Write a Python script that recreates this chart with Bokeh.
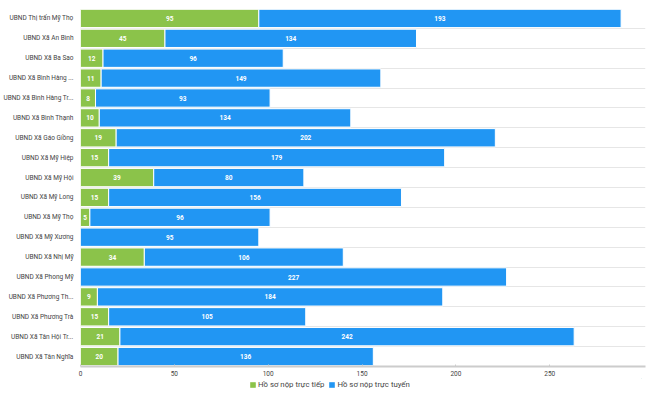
from bokeh.plotting import figure
from bokeh.layouts import column
from bokeh.models import ColumnDataSource, FixedTicker, Legend, LegendItem, Grid, Range1d
from bokeh.core.properties import value
from bokeh.embed import file_html
from bokeh.resources import INLINE

units = ["UBND Thị trấn Mỹ Thọ", "UBND Xã An Bình", "UBND Xã Ba Sao", "UBND Xã Bình Hàng ...",
         "UBND Xã Bình Hàng Tr...", "UBND Xã Bình Thạnh", "UBND Xã Gáo Giồng", "UBND Xã Mỹ Hiệp",
         "UBND Xã Mỹ Hội", "UBND Xã Mỹ Long", "UBND Xã Mỹ Thọ", "UBND Xã Mỹ Xương",
         "UBND Xã Nhị Mỹ", "UBND Xã Phong Mỹ", "UBND Xã Phương Th...", "UBND Xã Phương Trà",
         "UBND Xã Tân Hội Tr...", "UBND Xã Tân Nghĩa"]
truc_tiep = [95, 45, 12, 11, 8, 10, 19, 15, 39, 15, 5, 0, 34, 0, 9, 15, 21, 20]
truc_tuyen = [193, 134, 96, 149, 93, 134, 202, 179, 80, 156, 96, 95, 106, 227, 184, 105, 242, 136]
series_names = ["Hồ sơ nộp trực tiếp", "Hồ sơ nộp trực tuyến"]
x_ticks = [0, 50, 100, 150, 200, 250]

GREEN = "#8bc34a"
BLUE = "#2196f3"
FONT = "Roboto"

n = len(units)
ypos = [n - 1 - i + 0.5 for i in range(n)]

src = ColumnDataSource(dict(
    y=ypos,
    a_end=truc_tiep,
    b_end=[a + b for a, b in zip(truc_tiep, truc_tuyen)],
))

p = figure(width=648, height=378, output_backend="svg", toolbar_location=None,
           x_range=Range1d(0, 301), y_range=Range1d(0, n),
           min_border_left=77, min_border_right=3, min_border_top=8, min_border_bottom=12)
p.outline_line_color = None
p.background_fill_color = "white"

r1 = p.hbar(y="y", left=0, right="a_end", height=0.92, source=src,
            fill_color=GREEN, line_color="white", line_width=1)
r2 = p.hbar(y="y", left="a_end", right="b_end", height=0.92, source=src,
            fill_color=BLUE, line_color="white", line_width=1)

# value labels
la_x, la_y, la_t = [], [], []
for a, yy in zip(truc_tiep, ypos):
    if a > 0:
        la_x.append(a / 2); la_y.append(yy); la_t.append(str(a))
lb_x, lb_y, lb_t = [], [], []
for a, b, yy in zip(truc_tiep, truc_tuyen, ypos):
    if b > 0:
        lb_x.append(a + b / 2); lb_y.append(yy); lb_t.append(str(b))
p.text(x=la_x + lb_x, y=la_y + lb_y, text=la_t + lb_t, text_color="white",
       text_font=value(FONT), text_font_size="6.5px", text_font_style="bold",
       text_align="center", text_baseline="middle")

# grids
p.xgrid.visible = False
p.ygrid.visible = False
hgrid = Grid(dimension=1, ticker=FixedTicker(ticks=list(range(1, n + 1))),
             grid_line_color="#e6e6e6", grid_line_width=1)
p.add_layout(hgrid)

# y axis
p.yaxis.ticker = FixedTicker(ticks=ypos)
p.yaxis.major_label_overrides = {yy: u for yy, u in zip(ypos, units)}
p.yaxis.axis_line_color = None
p.yaxis.major_tick_line_color = None
p.yaxis.minor_tick_line_color = None
p.yaxis.major_tick_out = 0
p.yaxis.major_tick_in = 0
p.yaxis.major_label_standoff = 7
p.yaxis.major_label_text_font = FONT
p.yaxis.major_label_text_font_size = "6.5px"
p.yaxis.major_label_text_color = "#444444"

# x axis
p.xaxis.ticker = FixedTicker(ticks=x_ticks)
p.xaxis.axis_line_color = "#cccccc"
p.xaxis.axis_line_width = 2
p.xaxis.major_tick_line_color = "#cccccc"
p.xaxis.major_tick_in = 2
p.xaxis.major_tick_out = 0
p.xaxis.minor_tick_line_color = None
p.xaxis.major_label_standoff = 4
p.xaxis.major_label_text_font = FONT
p.xaxis.major_label_text_font_size = "6.5px"
p.xaxis.major_label_text_color = "#444444"

# legend strip (separate small figure; its swatch renderers lie outside its visible range)
pl = figure(width=644, height=12, output_backend="svg", toolbar_location=None,
            x_range=Range1d(0, 1), y_range=Range1d(0, 1),
            min_border_left=0, min_border_right=0, min_border_top=0, min_border_bottom=0)
pl.axis.visible = False
pl.grid.visible = False
pl.outline_line_color = None
lr1 = pl.hbar(y=[5], left=[5], right=[6], height=1, fill_color=GREEN, line_color=None)
lr2 = pl.hbar(y=[5], left=[5], right=[6], height=1, fill_color=BLUE, line_color=None)
legend = Legend(items=[LegendItem(label=series_names[0], renderers=[lr1]),
                       LegendItem(label=series_names[1], renderers=[lr2])],
                orientation="horizontal", location=(169, 1),
                padding=0, spacing=4, margin=0, label_standoff=2,
                glyph_width=7, glyph_height=7, label_height=9, label_width=10,
                label_text_font=FONT, label_text_font_size="7.8px",
                label_text_color="#444444", border_line_color=None,
                background_fill_alpha=0)
pl.add_layout(legend, "center")

layout = column(p, pl, spacing=0)
open("out.html", "w").write(file_html(layout, INLINE))
